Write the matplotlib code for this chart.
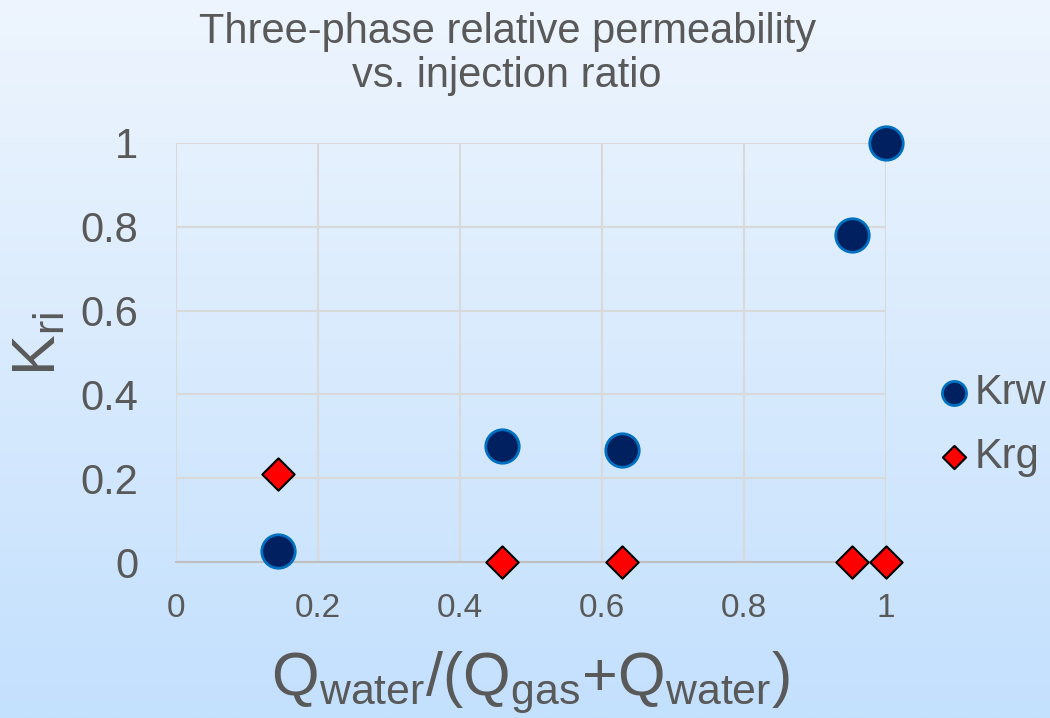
import numpy as np
import matplotlib.pyplot as plt
from matplotlib.colors import LinearSegmentedColormap

plt.rcParams['font.family'] = ['Liberation Sans', 'DejaVu Sans']

# injection ratio Qw/(Qg+Qw) and measured relative permeabilities
ratio = [0.144, 0.459, 0.628, 0.952, 1.0]
krw = [0.026, 0.277, 0.267, 0.780, 1.0]
krg = [0.210, 0.0, 0.0, 0.0, 0.0]

ticks = [0, 0.2, 0.4, 0.6, 0.8, 1]
tick_labels = ['0', '0.2', '0.4', '0.6', '0.8', '1']

text_color = '#595959'

fig = plt.figure(figsize=(10.5, 7.18), dpi=100)

# vertical background gradient
bg = fig.add_axes([0, 0, 1, 1], zorder=-10)
cmap = LinearSegmentedColormap.from_list('bg', ['#EEF5FE', '#C3E0FD'])
bg.imshow(np.linspace(0, 1, 256).reshape(-1, 1), aspect='auto', cmap=cmap,
          extent=[0, 1, 0, 1], origin='upper')
bg.axis('off')

ax = fig.add_axes([176 / 1050, 1 - 562 / 718, 710 / 1050, 419 / 718])
ax.patch.set_alpha(0)

ax.scatter(ratio, krw, s=580, marker='o', facecolor='#002060',
           edgecolor='#0070C0', linewidth=2, label='Krw', zorder=3, clip_on=False)
ax.scatter(ratio, krg, s=270, marker='D', facecolor='#FF0000',
           edgecolor='black', linewidth=1.5, label='Krg', zorder=4, clip_on=False)

ax.set_xlim(0, 1)
ax.set_ylim(0, 1)
ax.set_xticks(ticks)
ax.set_xticklabels(tick_labels)
ax.set_yticks(ticks)
ax.set_yticklabels(tick_labels)
ax.tick_params(axis='both', length=0, colors=text_color)
ax.tick_params(axis='x', labelsize=24, pad=22)
ax.tick_params(axis='y', labelsize=30, pad=27)

ax.grid(True, color='#D9D9D9', linewidth=1.5)
ax.set_axisbelow(True)
for side in ['top', 'right', 'left']:
    ax.spines[side].set_visible(False)
ax.spines['bottom'].set_color('#BFBFBF')
ax.spines['bottom'].set_linewidth(1.5)

ax.set_xlabel(r'Q$_{\mathregular{water}}$/(Q$_{\mathregular{gas}}$+Q$_{\mathregular{water}}$)',
              fontsize=44, color=text_color)
ax.xaxis.set_label_coords(0.5, -0.207)
ax.set_ylabel(r'K$_{\mathregular{ri}}$', fontsize=44, color=text_color)
ax.yaxis.set_label_coords(-0.152, 0.52)

fig.text(0.483, 0.925, 'Three-phase relative permeability\nvs. injection ratio',
         ha='center', va='center', fontsize=30, color=text_color, linespacing=1.15)

leg = ax.legend(loc='center left', bbox_to_anchor=(1.072, 0.327), frameon=False,
                fontsize=30, handlelength=0.8, handletextpad=0.1,
                labelspacing=0.58, markerscale=0.72, borderaxespad=0,
                borderpad=0)
for t in leg.get_texts():
    t.set_color(text_color)

fig.savefig('out.png', dpi=100)
